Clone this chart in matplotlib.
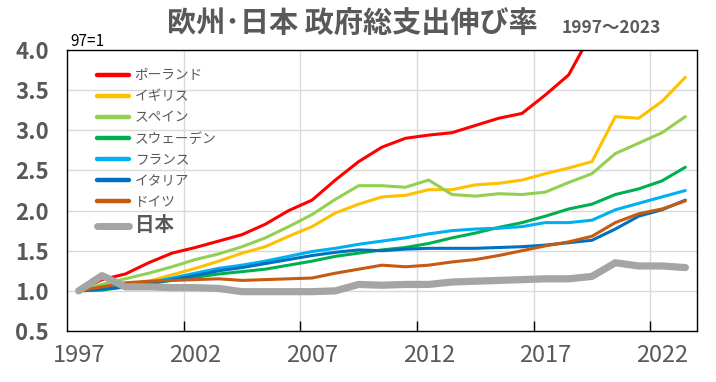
import matplotlib
matplotlib.use('Agg')
import matplotlib.pyplot as plt
from matplotlib.ticker import FixedLocator

plt.rcParams['font.family'] = ['Noto Sans CJK JP', 'DejaVu Sans']

# データ（1997年=1）
years = list(range(1997, 2024))
poland = [1.00, 1.14, 1.21, 1.35, 1.47, 1.54, 1.62, 1.70, 1.83, 2.00, 2.13, 2.38, 2.61, 2.79, 2.90, 2.94, 2.97,
          3.06, 3.15, 3.21, 3.44, 3.69, 4.22, 4.60, 4.80, 5.10, 5.50]
uk = [1.00, 1.03, 1.08, 1.12, 1.20, 1.28, 1.37, 1.47, 1.55, 1.68, 1.80, 1.97, 2.08, 2.17, 2.19, 2.26, 2.26,
      2.32, 2.34, 2.38, 2.46, 2.53, 2.61, 3.17, 3.15, 3.36, 3.66]
spain = [1.00, 1.08, 1.15, 1.22, 1.30, 1.39, 1.46, 1.55, 1.66, 1.80, 1.95, 2.14, 2.31, 2.31, 2.29, 2.38, 2.20,
         2.18, 2.21, 2.20, 2.23, 2.35, 2.46, 2.71, 2.84, 2.97, 3.17]
sweden = [1.00, 1.01, 1.05, 1.09, 1.13, 1.17, 1.21, 1.24, 1.27, 1.32, 1.37, 1.43, 1.47, 1.51, 1.54, 1.59, 1.66,
          1.72, 1.79, 1.85, 1.93, 2.02, 2.08, 2.20, 2.27, 2.37, 2.54]
france = [1.00, 1.03, 1.06, 1.10, 1.16, 1.22, 1.28, 1.32, 1.37, 1.43, 1.49, 1.53, 1.58, 1.62, 1.66, 1.71, 1.75,
          1.77, 1.78, 1.80, 1.85, 1.85, 1.88, 2.01, 2.09, 2.17, 2.25]
italy = [1.00, 1.02, 1.05, 1.09, 1.14, 1.19, 1.25, 1.29, 1.34, 1.39, 1.44, 1.48, 1.51, 1.50, 1.52, 1.53, 1.53,
         1.53, 1.54, 1.55, 1.57, 1.60, 1.63, 1.77, 1.93, 2.01, 2.13]
germany = [1.00, 1.05, 1.10, 1.12, 1.13, 1.14, 1.15, 1.13, 1.14, 1.15, 1.16, 1.22, 1.27, 1.32, 1.30, 1.32, 1.36,
           1.39, 1.44, 1.50, 1.56, 1.61, 1.68, 1.85, 1.96, 2.02, 2.12]
japan = [1.00, 1.19, 1.05, 1.05, 1.04, 1.04, 1.03, 0.99, 0.99, 0.99, 0.99, 1.00, 1.08, 1.07, 1.08, 1.08, 1.11,
         1.12, 1.13, 1.14, 1.15, 1.15, 1.18, 1.35, 1.31, 1.31, 1.29]

names = ['ポーランド', 'イギリス', 'スペイン', 'スウェーデン', 'フランス', 'イタリア', 'ドイツ', '日本']
series = [poland, uk, spain, sweden, france, italy, germany, japan]
colors = ['#FF0000', '#FFC000', '#92D050', '#00B050', '#00B0F0', '#0070C0', '#C55A11', '#A5A5A5']

grey = '#595959'

fig = plt.figure(figsize=(7.16, 3.82), dpi=100)
ax = fig.add_axes([67 / 716, 1 - 331 / 382, 630 / 716, 281 / 382])

for nm, vals, c in zip(names, series, colors):
    lw = 5.2 if nm == '日本' else 2.2
    ax.plot(years, vals, color=c, lw=lw, label=nm, solid_capstyle='round', solid_joinstyle='round')

ax.set_xlim(1996.5, 2023.5)
ax.set_ylim(0.5, 4.0)

ax.set_xticks(years[::5])
ax.xaxis.set_minor_locator(FixedLocator([y - 0.5 for y in years[5::5]]))
ax.tick_params(axis='x', which='major', length=0, pad=9, labelsize=17, labelcolor=grey)
ax.tick_params(axis='x', which='minor', length=7, direction='in', width=1, color='black')
ax.set_yticks([0.5, 1.0, 1.5, 2.0, 2.5, 3.0, 3.5, 4.0])
ax.set_yticklabels(['0.5', '1.0', '1.5', '2.0', '2.5', '3.0', '3.5', '4.0'])
ax.tick_params(axis='y', length=0, pad=13, labelsize=16, labelcolor=grey)
for t in ax.get_yticklabels():
    t.set_fontweight('bold')

ax.grid(True, axis='y', which='major', color='#D9D9D9', lw=1)
ax.grid(True, axis='x', which='minor', color='#D9D9D9', lw=1)
ax.set_axisbelow(True)
for s in ax.spines.values():
    s.set_color('black')
    s.set_linewidth(1)

leg = ax.legend(loc='upper left', bbox_to_anchor=(0.048, 0.935), frameon=False, fontsize=9.8,
                handlelength=2.3, handletextpad=0.45, labelspacing=0.52, borderpad=0, borderaxespad=0)
for t in leg.get_texts():
    t.set_color(grey)
leg.get_texts()[-1].set_fontsize(14)
leg.get_texts()[-1].set_fontweight('bold')
for h in leg.get_lines():
    h.set_linewidth(3.2)
leg.get_lines()[-1].set_linewidth(5)

fig.text(167 / 716, 1 - 22.5 / 382, '欧州･日本 政府総支出伸び率', fontsize=21, fontweight='bold',
         color=grey, ha='left', va='center')
fig.text(562 / 716, 1 - 33 / 382, '1997～2023', fontsize=12.5, fontweight='bold',
         color=grey, ha='left', va='baseline')
fig.text(70 / 716, 1 - 46 / 382, '97=1', fontsize=11, color='black', ha='left', va='baseline')

fig.savefig('out.png', dpi=100)
